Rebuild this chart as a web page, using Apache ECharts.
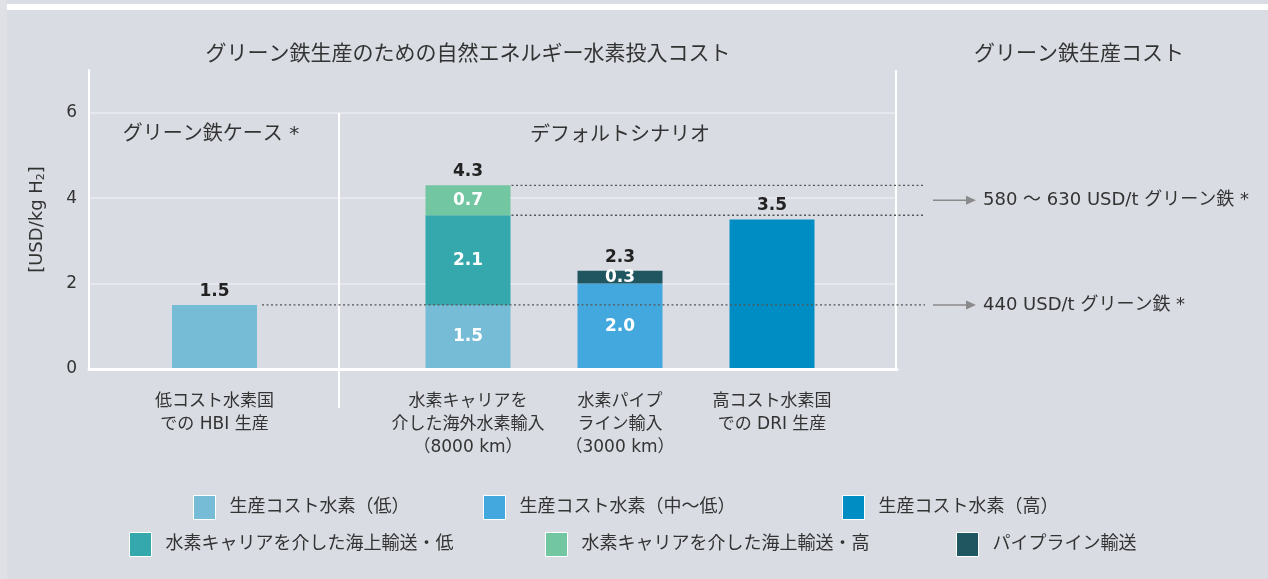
<!DOCTYPE html>
<html>
<head>
<meta charset="utf-8">
<script src="https://cdn.jsdelivr.net/npm/echarts@6/dist/echarts.min.js"></script>
<style>
html,body{margin:0;padding:0;background:#d9dce3;}
#c{width:1268px;height:579px;}
</style>
</head>
<body>
<div id="c"></div>
<script>
// ---- data ----
const leftCategories = ['低コスト水素国\nでの HBI 生産'];
const rightCategories = [
  '水素キャリアを\n介した海外水素輸入\n（8000 km）',
  '水素パイプ\nライン輸入\n（3000 km）',
  '高コスト水素国\nでの DRI 生産'
];
const seriesNames = [
  '生産コスト水素（低）',
  '生産コスト水素（中〜低）',
  '生産コスト水素（高）',
  '水素キャリアを介した海上輸送・低',
  '水素キャリアを介した海上輸送・高',
  'パイプライン輸送'
];
const lowCostLeft  = [1.5];
const lowCostRight = [1.5, null, null];
const midLowCost   = [null, 2.0, null];
const highCost     = [null, null, 3.5];
const carrierLow   = [2.1, null, null];
const carrierHigh  = [0.7, null, null];
const pipeline     = [null, 0.3, null];
const yMax = 7;
const yInterval = 2;
const mainTitle = 'グリーン鉄生産のための自然エネルギー水素投入コスト';
const sideTitle = 'グリーン鉄生産コスト';
const leftSection = 'グリーン鉄ケース *';
const rightSection = 'デフォルトシナリオ';
const annotationHigh = '580 ～ 630 USD/t グリーン鉄 *';
const annotationLow = '440 USD/t グリーン鉄 *';

// ---- styles ----
const FONT = "'DejaVu Sans', 'Noto Sans CJK JP', sans-serif";
const colors = ['#77bcd6', '#43a8dd', '#008dc3', '#35a8ad', '#72c6a1', '#1f5660'];
const TXT = '#333333';
const BAR_W = 85;

const rightSeriesData = [lowCostRight, carrierLow, carrierHigh, midLowCost, pipeline, highCost];
const rightSeriesIdx = [0, 3, 4, 1, 5, 2];
const rightTotals = rightCategories.map((c, i) =>
  rightSeriesData.reduce((s, arr) => s + (arr[i] == null ? 0 : arr[i]), 0));

const insideLabel = {
  show: true, position: 'inside', color: '#fff', fontWeight: 'bold', fontSize: 17, fontFamily: FONT,
  formatter: p => (p.value == null ? '' : Number(p.value).toFixed(1))
};
const topLabel = {
  show: true, position: 'top', distance: 5, color: '#222', fontWeight: 'bold', fontSize: 17, fontFamily: FONT,
  formatter: p => Number(p.value).toFixed(1)
};

const series = [];
series.push({
  name: seriesNames[0], type: 'bar', xAxisIndex: 1, yAxisIndex: 1, data: lowCostLeft,
  barWidth: BAR_W, itemStyle: { color: colors[0] }, label: topLabel
});
rightSeriesData.forEach((arr, k) => {
  const ci = rightSeriesIdx[k];
  series.push({
    name: seriesNames[ci], type: 'bar', xAxisIndex: 2, yAxisIndex: 2, stack: 'r', data: arr,
    barWidth: BAR_W, itemStyle: { color: colors[ci] },
    label: ci === 2 ? { show: false } : insideLabel
  });
});
series.push({
  name: 'total', type: 'bar', xAxisIndex: 2, yAxisIndex: 2, data: rightTotals,
  barWidth: BAR_W, barGap: '-100%', silent: true, z: 1,
  itemStyle: { color: 'rgba(0,0,0,0)' }, label: topLabel
});

const legendPos = [
  [193, 495], [483, 495], [842, 495],
  [129, 532], [545, 532], [956, 532]
];
const legends = seriesNames.map((nm, i) => ({
  data: [nm], left: legendPos[i][0], top: legendPos[i][1], padding: 0,
  icon: 'rect', itemWidth: 22, itemHeight: 24, selectedMode: false,
  itemStyle: { borderColor: '#ffffff', borderWidth: 1 },
  textStyle: { fontSize: 18, color: TXT, fontFamily: FONT, padding: [0, 0, 0, 9] }
}));

const chart = echarts.init(document.getElementById('c'));
const hiddenY = (gi) => ({ type: 'value', gridIndex: gi, min: 0, max: yMax, show: false });
const catX = (gi, data) => ({
  type: 'category', gridIndex: gi, data: data,
  axisLine: { show: false }, axisTick: { show: false }, splitLine: { show: false },
  axisLabel: { interval: 0, fontSize: 17, lineHeight: 23, color: TXT, margin: 21, fontFamily: FONT }
});

const txt = (id, x, y, text, size) => ({
  id: id, type: 'text', x: x, y: y, silent: true,
  style: { text: text, fontSize: size, fill: TXT, align: 'center', verticalAlign: 'middle', fontFamily: FONT }
});

chart.setOption({
  backgroundColor: '#d9dce3',
  animation: false,
  textStyle: { fontFamily: FONT },
  grid: [
    { left: 89, right: 371, top: 70, bottom: 210 },
    { left: 89, width: 251, top: 70, bottom: 210 },
    { left: 392, width: 456, top: 70, bottom: 210 }
  ],
  xAxis: [
    { type: 'value', gridIndex: 0, min: 0, max: 1, z: 5,
      axisLine: { show: true, lineStyle: { color: '#ffffff', width: 3 } },
      axisLabel: { show: false }, axisTick: { show: false }, splitLine: { show: false } },
    catX(1, leftCategories),
    catX(2, rightCategories)
  ],
  yAxis: [
    { type: 'value', gridIndex: 0, min: 0, max: yMax, interval: yInterval,
      axisLine: { show: true, lineStyle: { color: '#ffffff', width: 2 } },
      axisTick: { show: false },
      splitLine: { show: true, showMaxLine: false, lineStyle: { color: '#e7e8ed', width: 2 } },
      axisLabel: { fontSize: 17, color: TXT, margin: 12, showMaxLabel: false, fontFamily: FONT,
        formatter: v => (v % yInterval === 0 ? String(v) : '') },
      name: '[USD/kg H{sub|2}]', nameLocation: 'middle', nameGap: 42,
      nameTextStyle: { fontSize: 18, color: TXT, fontFamily: FONT,
        rich: { sub: { fontSize: 11, color: TXT, fontFamily: FONT, padding: [9, 0, 0, 0] } } } },
    hiddenY(1),
    hiddenY(2)
  ],
  legend: legends,
  series: series
});

// static decoration + reference lines and annotations positioned through the chart's own scales
const yPix = v => chart.convertToPixel({ yAxisIndex: 0 }, v);
const leftBarRight = chart.convertToPixel({ xAxisIndex: 1 }, leftCategories[0]) + BAR_W / 2;
const rightBarRight = chart.convertToPixel({ xAxisIndex: 2 }, rightCategories[0]) + BAR_W / 2;
const endX = 925;
const yLow = yPix(lowCostLeft[0]);
const yMid = yPix(lowCostRight[0] + carrierLow[0]);
const yFull = yPix(rightTotals[0]);
const yHighArrow = (yMid + yFull) / 2;
const dotted = { stroke: '#555555', lineWidth: 1.3, lineDash: [2, 2.5] };
const arrow = (id, y) => [
  { id: id + 'l', type: 'line', z: 10, silent: true, shape: { x1: 933, y1: y, x2: 968, y2: y }, style: { stroke: '#8a8a8a', lineWidth: 1.5 } },
  { id: id + 'h', type: 'polygon', z: 10, silent: true, shape: { points: [[966, y - 4.5], [976, y], [966, y + 4.5]] }, style: { fill: '#8a8a8a' } }
];
const annot = (id, y, text) => ({
  id: id, type: 'text', z: 10, x: 983, y: y, silent: true,
  style: { text: text, fontSize: 18, fill: TXT, align: 'left', verticalAlign: 'middle', fontFamily: FONT }
});

chart.setOption({
  graphic: [
    { id: 'band', type: 'rect', silent: true, shape: { x: 7, y: 4, width: 1261, height: 6 }, style: { fill: '#ffffff' } },
    { id: 'strip', type: 'rect', silent: true, shape: { x: 0, y: 0, width: 7, height: 579 }, style: { fill: '#dfe1e6' } },
    { id: 'frameR', type: 'line', silent: true, shape: { x1: 896, y1: 70, x2: 896, y2: 370 }, style: { stroke: '#ffffff', lineWidth: 2 } },
    { id: 'divider', type: 'line', silent: true, shape: { x1: 339, y1: 113, x2: 339, y2: 408 }, style: { stroke: '#ffffff', lineWidth: 2 } },
    txt('t1', 468, 55, mainTitle, 21),
    txt('t2', 1079, 55, sideTitle, 21),
    txt('t3', 211, 135, leftSection, 20),
    txt('t4', 620, 136, rightSection, 20),
    { id: 'dLow', type: 'line', z: 10, silent: true, shape: { x1: leftBarRight + 5, y1: yLow, x2: endX, y2: yLow }, style: dotted },
    { id: 'dMid', type: 'line', z: 10, silent: true, shape: { x1: rightBarRight + 1, y1: yMid, x2: endX, y2: yMid }, style: dotted },
    { id: 'dFull', type: 'line', z: 10, silent: true, shape: { x1: rightBarRight + 1, y1: yFull, x2: endX, y2: yFull }, style: dotted },
    ...arrow('aH', yHighArrow),
    ...arrow('aL', yLow),
    annot('nH', yHighArrow, annotationHigh),
    annot('nL', yLow, annotationLow)
  ]
});
</script>
</body>
</html>
